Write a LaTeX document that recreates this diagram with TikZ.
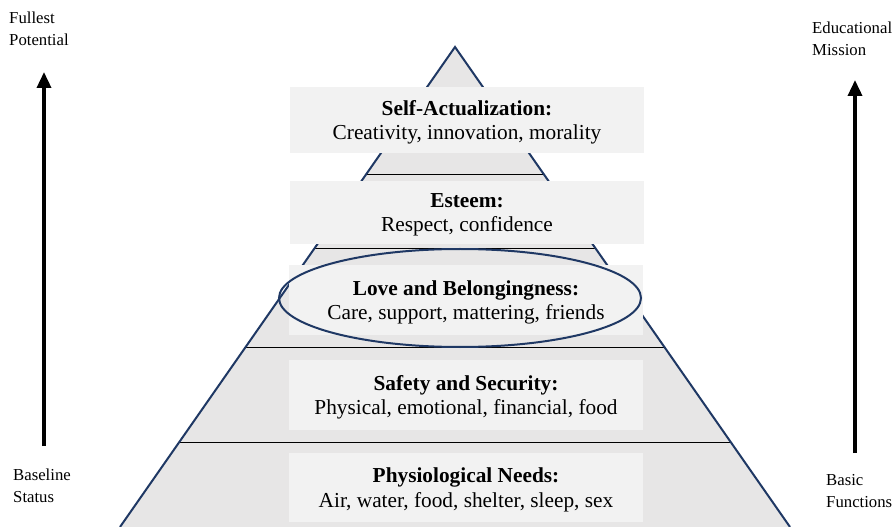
\documentclass[tikz,border=0pt]{standalone}
\usepackage{fontspec}
\setmainfont{Liberation Serif}
\usetikzlibrary{positioning, arrows.meta, shapes.geometric}
\definecolor{navy}{HTML}{1F3864}
\definecolor{pyrgray}{HTML}{E7E6E6}
\definecolor{boxgray}{HTML}{F2F2F2}
\newcommand{\bigarrow}{-{Triangle[length=16bp,width=14bp]}}
\tikzset{
  level/.style={fill=boxgray, minimum width=354bp, minimum height=#1,
    align=center, inner sep=0pt, text depth=0pt,
    font=\fontsize{21.4}{24.5}\selectfont},
  side/.style={anchor=west, align=left, inner sep=0pt,
    font=\fontsize{16.8}{22}\selectfont}
}

\begin{document}
\begin{tikzpicture}[x=1bp, y=-1bp]
        \useasboundingbox (0,0) rectangle (896,527);
        % pyramid
        \fill[pyrgray] (455,47) -- (120,527) -- (790,527) -- cycle;
        \begin{scope}
            \clip (455,47) -- (120,527) -- (790,527) -- cycle;
            \foreach \y in {175,249,347,442}
                \draw[line width=1bp] (100,\y) -- (800,\y);
        \end{scope}
        \draw[navy, line width=2bp] (120,527) -- (455,47) -- (790,527);
        % levels
        \node[level=66bp] (selfact) at (467,120)
            {\textbf{Self-Actualization:}\\Creativity, innovation, morality};
        \node[level=63bp] (esteem) at (467,212.5)
            {\textbf{Esteem:}\\Respect, confidence};
        \node[level=70bp] (love) at (466,300)
            {\textbf{Love and Belongingness:}\\Care, support, mattering, friends};
        \node[level=70bp] (safety) at (466,395)
            {\textbf{Safety and Security:}\\Physical, emotional, financial, food};
        \node[level=69bp] (physio) at (466,487.5)
            {\textbf{Physiological Needs:}\\Air, water, food, shelter, sleep, sex};
        \draw[navy, line width=2bp] (love.center) ++(-6,-2) ellipse [x radius=181, y radius=49];
        % side arrows
        \node[side] (fullest) at (9,29) {Fullest\\Potential};
        \node[side] (baseline) at (13,486) {Baseline\\Status};
        \node[side] (mission) at (812,39) {Educational\\Mission};
        \node[side] (basic) at (826,491) {Basic\\Functions};
        \coordinate (lstart) at (44,446);
        \coordinate (ltip) at (44,72);
        \coordinate (rstart) at (855,453);
        \coordinate (rtip) at (855,80);
        \draw[line width=3.5bp, \bigarrow] (lstart) -- (ltip);
        \draw[line width=3.5bp, \bigarrow] (rstart) -- (rtip);
    \end{tikzpicture}
\end{document}
